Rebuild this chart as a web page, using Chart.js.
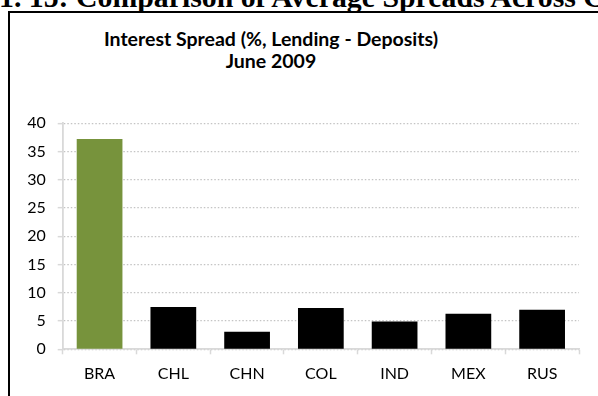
<!DOCTYPE html>
<html>
<head>
<meta charset="utf-8">
<script src="https://cdn.jsdelivr.net/npm/chart.js@4/dist/chart.umd.min.js"></script>
<style>
  html, body { margin: 0; padding: 0; width: 598px; height: 396px; overflow: hidden; background: #fff; }
  #heading {
    position: absolute; left: -1px; top: -18px;
    font: bold 29.8px/29px "Liberation Serif", "Times New Roman", serif;
    white-space: nowrap; color: #000;
  }
  #frame {
    position: absolute; left: 8px; top: 11px; width: 700px; height: 500px;
    border-left: 2px solid #000; border-top: 2px solid #000;
  }
  #title {
    position: absolute; left: 0; top: 28px; width: 542px; text-align: center;
    font: bold 19.5px/22px Lato, "Open Sans", sans-serif; color: #000;
  }
  #chart { position: absolute; left: 10px; top: 90px; }
</style>
</head>
<body>
<div id="heading">1. 15: Comparison of Average Spreads Across Countries</div>
<div id="frame"></div>
<div id="title">Interest Spread (%, Lending - Deposits)<br>June 2009</div>
<canvas id="chart" width="588" height="306"></canvas>
<script>
// Interest spread by country, June 2009 (percentage points)
const countries = ['BRA', 'CHL', 'CHN', 'COL', 'IND', 'MEX', 'RUS'];
const spreads = [37.2, 7.5, 3.1, 7.3, 4.9, 6.3, 7.0];
const barColors = ['#77933C', '#000000', '#000000', '#000000', '#000000', '#000000', '#000000'];
const yTicks = [0, 5, 10, 15, 20, 25, 30, 35, 40];

const axisGrey = '#d9d9d9';
const tickFont = { family: 'Lato, "Open Sans", sans-serif', size: 16 };

new Chart(document.getElementById('chart'), {
  type: 'bar',
  data: {
    labels: countries,
    datasets: [{
      data: spreads,
      backgroundColor: barColors,
      borderWidth: 0,
      categoryPercentage: 1,
      barPercentage: 0.62
    }]
  },
  options: {
    responsive: false,
    devicePixelRatio: 1,
    animation: false,
    layout: { padding: { top: 33.3, right: 19, bottom: 0, left: 0 } },
    plugins: {
      legend: { display: false },
      tooltip: { enabled: false },
      title: { display: false }
    },
    scales: {
      x: {
        afterFit: (s) => { s.height = 46.7; },
        grid: {
          offset: true,
          drawOnChartArea: false,
          drawTicks: true,
          tickLength: 5,
          tickColor: axisGrey,
          tickWidth: 1.5
        },
        border: { display: true, color: axisGrey, width: 1.8 },
        ticks: { color: '#000', font: tickFont, padding: 10, maxRotation: 0 }
      },
      y: {
        min: 0,
        max: 40,
        afterFit: (s) => { s.width = 52.7; },
        afterBuildTicks: (s) => { s.ticks = yTicks.map(v => ({ value: v })); },
        grid: {
          color: '#c4c4c4',
          lineWidth: 1.3,
          drawTicks: true,
          tickLength: 5,
          tickColor: axisGrey,
          tickWidth: 1.5,
          tickBorderDash: [10, 0]
        },
        border: { display: true, color: axisGrey, width: 1.8, dash: [1.5, 2] },
        ticks: { color: '#000', font: tickFont, padding: 12 }
      }
    }
  }
});
</script>
</body>
</html>
